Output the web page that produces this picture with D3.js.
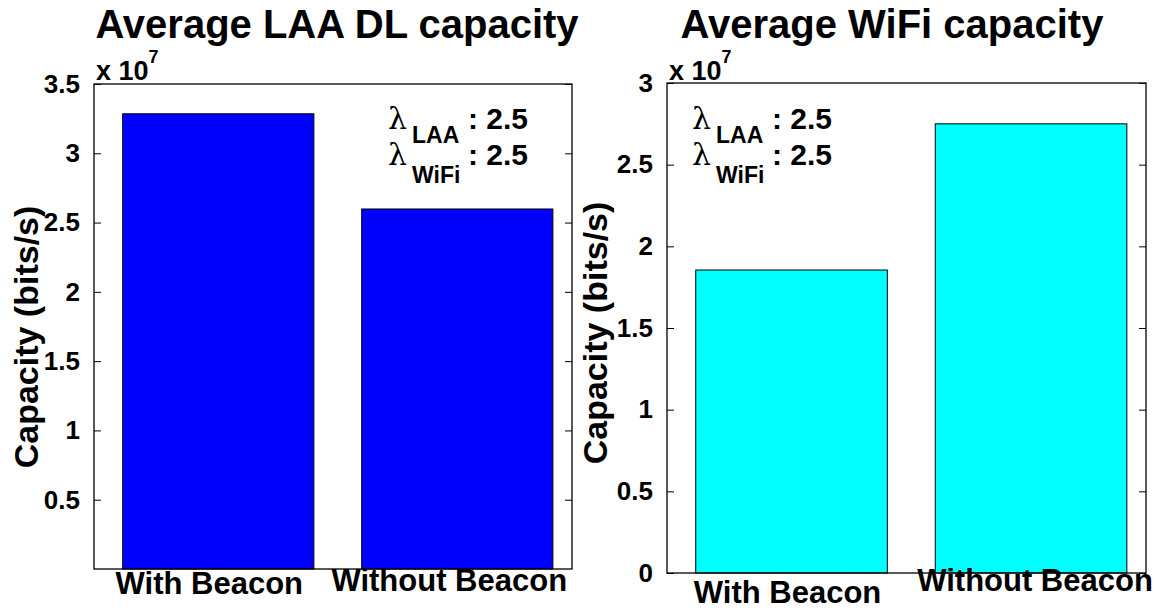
<!DOCTYPE html>
<html>
<head>
<meta charset="utf-8">
<script src="https://cdn.jsdelivr.net/npm/d3@7"></script>
<style>
  html, body { margin: 0; padding: 0; background: #fff; }
  svg { display: block; font-family: "Liberation Sans", Arial, Helvetica, sans-serif; }
</style>
</head>
<body>
<svg id="chart" width="1158" height="610"></svg>
<script>
// Bar categories shared by both panels
const categories = ["With Beacon", "Without Beacon"];

// Average capacities in bits/s
const laaCapacity = [3.285e7, 2.598e7];
const wifiCapacity = [1.855e7, 2.75e7];

// Y tick values (in units of 1e7)
const laaTicks = [0.5, 1, 1.5, 2, 2.5, 3, 3.5];
const wifiTicks = [0, 0.5, 1, 1.5, 2, 2.5, 3];

// Arrival-rate annotation lines
const lambdaSubs = ["LAA", "WiFi"];
const lambdaVals = ["2.5", "2.5"];

const svg = d3.select("#chart");

function drawPanel(opt) {
  const { frame, values, ticks, yMax, color, title, titleX,
          annotX, annotY, labelY, labelShift, ylabelX, ylabelY } = opt;
  const g = svg.append("g");

  const x = d3.scaleLinear().domain([0.48, 2.48]).range([frame.left, frame.right]);
  const y = d3.scaleLinear().domain([0, yMax]).range([frame.bottom, frame.top]);
  const barW = 0.8;

  // bars
  g.selectAll("rect.bar")
    .data(values)
    .enter().append("rect")
    .attr("class", "bar")
    .attr("x", (d, i) => x(i + 1 - barW / 2))
    .attr("width", x(1 + barW / 2) - x(1 - barW / 2))
    .attr("y", d => y(d))
    .attr("height", d => y(0) - y(d))
    .attr("fill", color)
    .attr("stroke", "#000")
    .attr("stroke-width", 1);

  // left axis: labels outside, ticks inward
  const yAxisL = d3.axisLeft(y)
    .tickValues(ticks.map(t => t * 1e7))
    .tickFormat(d => d3.format("~g")(d / 1e7))
    .tickSizeInner(-7).tickSizeOuter(0).tickPadding(14);
  const gl = g.append("g").attr("transform", `translate(${frame.left},0)`).call(yAxisL);
  gl.select(".domain").remove();
  gl.selectAll("text").attr("font-size", 26).attr("font-weight", "bold").attr("fill", "#000");
  gl.selectAll("line").attr("stroke", "#000");

  // right axis: ticks only
  const yAxisR = d3.axisRight(y)
    .tickValues(ticks.map(t => t * 1e7))
    .tickFormat("")
    .tickSizeInner(-7).tickSizeOuter(0);
  const gr = g.append("g").attr("transform", `translate(${frame.right},0)`).call(yAxisR);
  gr.select(".domain").remove();
  gr.selectAll("line").attr("stroke", "#000");

  // box
  g.append("rect")
    .attr("x", frame.left).attr("y", frame.top)
    .attr("width", frame.right - frame.left)
    .attr("height", frame.bottom - frame.top)
    .attr("fill", "none").attr("stroke", "#000").attr("stroke-width", 1.3);

  // category labels
  g.selectAll("text.cat")
    .data(categories)
    .enter().append("text")
    .attr("class", "cat")
    .attr("x", (d, i) => x(i + 1) + labelShift[i])
    .attr("y", (d, i) => labelY[i])
    .attr("text-anchor", "middle")
    .attr("font-size", 31).attr("font-weight", "bold")
    .text(d => d);

  // title
  g.append("text")
    .attr("x", titleX).attr("y", 38)
    .attr("text-anchor", "middle")
    .attr("font-size", 40).attr("font-weight", "bold")
    .text(title);

  // exponent
  const ex = g.append("text")
    .attr("x", frame.left + 2).attr("y", 80)
    .attr("font-size", 27).attr("font-weight", "bold");
  ex.append("tspan").text("x 10");
  ex.append("tspan").attr("font-size", 18).attr("dy", -17).text("7");

  // y label
  g.append("text")
    .attr("transform", `translate(${ylabelX},${ylabelY}) rotate(-90)`)
    .attr("text-anchor", "middle")
    .attr("font-size", 34).attr("font-weight", "bold")
    .text("Capacity (bits/s)");

  // lambda annotation
  const subDrop = [14, 18];
  lambdaSubs.forEach((s, i) => {
    const by = annotY + i * 36;
    g.append("text").attr("x", annotX).attr("y", by)
      .attr("font-family", "'DejaVu Serif', 'Liberation Serif', serif")
      .attr("font-size", 30).text("λ");
    g.append("text").attr("x", annotX + 24).attr("y", by + subDrop[i])
      .attr("font-size", 23).attr("font-weight", "bold").text(s);
    g.append("text").attr("x", annotX + 80).attr("y", by)
      .attr("font-size", 30).attr("font-weight", "bold").text(": " + lambdaVals[i]);
  });
}

drawPanel({
  frame: { left: 94, right: 572, top: 84, bottom: 569 },
  values: laaCapacity, ticks: laaTicks, yMax: 3.5e7,
  color: "#0000ff", title: "Average LAA DL capacity", titleX: 337,
  annotX: 388, annotY: 129, labelY: [594, 591], labelShift: [-9, -8],
  ylabelX: 38, ylabelY: 337
});

drawPanel({
  frame: { left: 667, right: 1146, top: 83, bottom: 573 },
  values: wifiCapacity, ticks: wifiTicks, yMax: 3e7,
  color: "#00ffff", title: "Average WiFi capacity", titleX: 892,
  annotX: 692, annotY: 129, labelY: [603, 591], labelShift: [-4, 4],
  ylabelX: 607, ylabelY: 333
});
</script>
</body>
</html>
